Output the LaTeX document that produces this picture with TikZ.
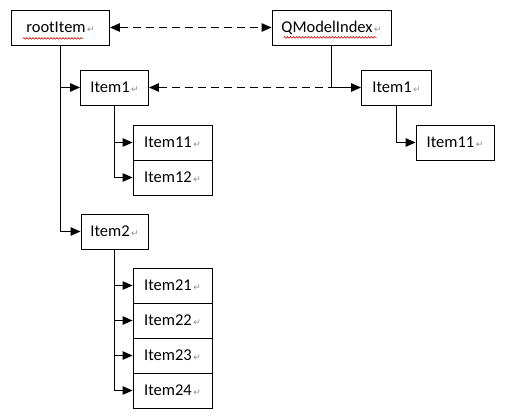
\documentclass[tikz,border=0pt]{standalone}
\usepackage{fontspec}
\setmainfont{Carlito}
\newfontfamily\retfont{DejaVu Sans}
\usepackage{tikz}
\usetikzlibrary{arrows.meta,decorations.pathmorphing}
\newcommand{\retmark}{{\retfont\fontsize{9}{9}\selectfont\color{black!45}\,↵}}
\tikzset{
    item-box/.style = {draw=black, fill=white, line width=0.9pt, rectangle, minimum height=35pt, inner sep=0pt, font=\fontsize{16.5}{18}\selectfont},
    tree-link/.style = {line width=1.1pt, -{Triangle[length=10pt,width=8.5pt]}},
    index-link/.style = {line width=1.1pt, dash pattern=on 8pt off 5pt},
    spell-mark/.style = {draw=red!80!black, line width=0.6pt, decorate, decoration={snake, amplitude=0.8pt, segment length=3pt}},
}

\begin{document}
\begin{tikzpicture}[x=1pt,y=-1pt]
\useasboundingbox (0,0) rectangle (505,419);
% model side
\node [item-box, minimum width=98pt] (root) at (60.5,27.5) {rootItem\retmark};
\node [item-box, minimum width=68pt] (item1) at (114.5,87.5) {Item1\retmark};
\node [item-box, minimum width=79pt] (item11) at (172.5,142.5) {Item11\retmark};
\node [item-box, minimum width=79pt] (item12) at (172.5,177.5) {Item12\retmark};
\node [item-box, minimum width=67pt] (item2) at (114.5,231.5) {Item2\retmark};
\node [item-box, minimum width=79pt] (item21) at (172.5,285.5) {Item21\retmark};
\node [item-box, minimum width=79pt] (item22) at (172.5,320.5) {Item22\retmark};
\node [item-box, minimum width=79pt] (item23) at (172.5,355.5) {Item23\retmark};
\node [item-box, minimum width=79pt] (item24) at (172.5,390.5) {Item24\retmark};
% index side
\node [item-box, minimum width=119pt] (index) at (331.5,27.5) {QModelIndex\retmark};
\node [item-box, minimum width=70pt] (indexitem1) at (396.5,87.5) {Item1\retmark};
\node [item-box, minimum width=78pt] (indexitem11) at (455,142.5) {Item11\retmark};
% spelling marks
\draw [spell-mark] ([xshift=12pt,yshift=7pt]root.south west) -- ([xshift=72pt,yshift=7pt]root.south west);
\draw [spell-mark] ([xshift=12pt,yshift=8pt]index.south west) -- ([xshift=105pt,yshift=8pt]index.south west);

\draw [tree-link] (root.south) |- (item1.west);
\draw [tree-link] (root.south) |- (item2.west);
\foreach \child in {item11,item12} {
    \draw [tree-link] (item1.south) |- (\child.west);
}
\foreach \child in {item21,item22,item23,item24} {
    \draw [tree-link] (item2.south) |- (\child.west);
}
\draw [tree-link] (index.south) |- (indexitem1.west);
\draw [tree-link] (indexitem1.south) |- (indexitem11.west);

\draw [index-link, {Triangle[length=10pt,width=8.5pt]}-{Triangle[length=10pt,width=8.5pt]}] (root.east) -- (index.west);
\draw [index-link, {Triangle[length=10pt,width=8.5pt]}-] (item1.east) -- (item1.east -| index.south);
\end{tikzpicture}
\end{document}
